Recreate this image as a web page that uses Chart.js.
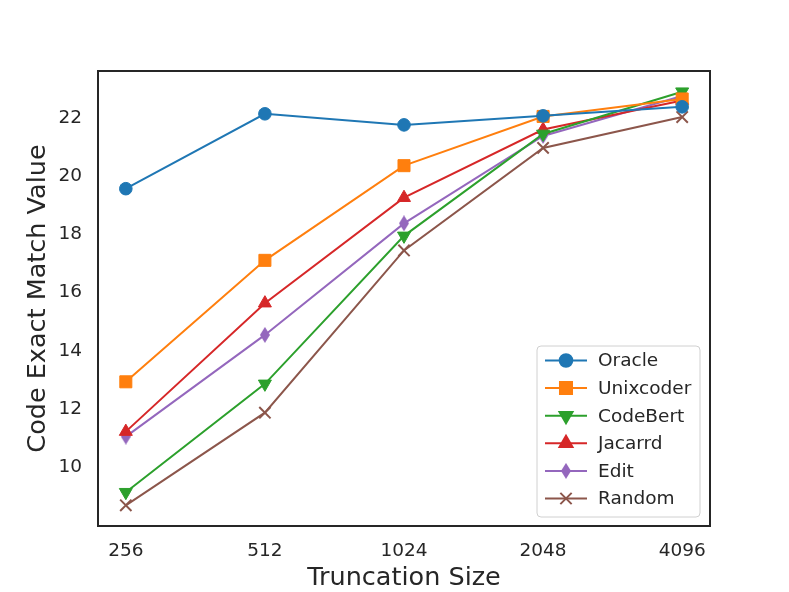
<!DOCTYPE html>
<html>
<head>
<meta charset="utf-8">
<script src="https://cdn.jsdelivr.net/npm/chart.js@4.4.1/dist/chart.umd.min.js"></script>
<style>
  html, body { margin: 0; padding: 0; background: #fff; }
  #wrap { width: 789px; height: 592px; }
</style>
</head>
<body>
<div id="wrap"><canvas id="chart"></canvas></div>
<script>
// Chart data
const sizes = ['256', '512', '1024', '2048', '4096'];
const oracle = [19.57, 22.14, 21.76, 22.07, 22.38];
const unixcoder = [12.94, 17.11, 20.36, 22.05, 22.65];
const codebert = [9.15, 12.87, 17.95, 21.45, 22.90];
const jacarrd = [11.23, 15.64, 19.26, 21.60, 22.60];
const edit = [11.06, 14.55, 18.38, 21.38, 22.75];
const random = [8.70, 11.88, 17.45, 20.97, 22.03];

const textColor = '#262626';
const fontFamily = '"DejaVu Sans", sans-serif';

// thin diamond marker like matplotlib 'd'
function thinDiamond(color, w, h) {
    const c = document.createElement('canvas');
    c.width = w;
    c.height = h;
    const ctx = c.getContext('2d');
    ctx.fillStyle = color;
    ctx.beginPath();
    ctx.moveTo(w / 2, 0);
    ctx.lineTo(w, h / 2);
    ctx.lineTo(w / 2, h);
    ctx.lineTo(0, h / 2);
    ctx.closePath();
    ctx.fill();
    return c;
}

function toPoints(values) {
    return values.map((v, i) => ({ x: i, y: v }));
}

function series(label, values, color, style, radius, rotation) {
    return {
        label: label,
        data: toPoints(values),
        borderColor: color,
        backgroundColor: color,
        borderWidth: 2,
        pointStyle: style,
        pointRadius: radius,
        pointHoverRadius: radius,
        pointRotation: rotation || 0,
        pointBackgroundColor: color,
        pointBorderColor: color,
        pointBorderWidth: style === 'crossRot' ? 2 : 1,
        tension: 0
    };
}

const datasets = [
    series('Oracle', oracle, '#1f77b4', 'circle', 6.3),
    series('Unixcoder', unixcoder, '#ff7f0e', 'rect', 8.5),
    series('CodeBert', codebert, '#2ca02c', 'triangle', 7.5, 180),
    series('Jacarrd', jacarrd, '#d62728', 'triangle', 7.5, 0),
    series('Edit', edit, '#9467bd', thinDiamond('#9467bd', 10, 16), 8),
    series('Random', random, '#8c564b', 'crossRot', 8)
];

// matplotlib-like 5% margins
const allValues = [].concat(oracle, unixcoder, codebert, jacarrd, edit, random);
const yLo = Math.min(...allValues);
const yHi = Math.max(...allValues);
const yPad = (yHi - yLo) * 0.05;

// Frame around the plot area
const framePlugin = {
    id: 'frame',
    afterDatasetsDraw(chart) {
        const a = chart.chartArea;
        const ctx = chart.ctx;
        ctx.save();
        ctx.strokeStyle = '#262626';
        ctx.lineWidth = 2;
        ctx.strokeRect(a.left, a.top, a.right - a.left, a.bottom - a.top);
        ctx.restore();
    }
};

// Legend drawn inside the plot, lower right
const legendPlugin = {
    id: 'innerLegend',
    afterDraw(chart) {
        const ctx = chart.ctx;
        const x0 = 537, y0 = 346, w = 163, h = 171;
        ctx.save();
        ctx.fillStyle = 'rgba(255,255,255,0.8)';
        ctx.strokeStyle = '#d0d0d0';
        ctx.lineWidth = 1;
        ctx.beginPath();
        ctx.roundRect(x0, y0, w, h, 4);
        ctx.fill();
        ctx.stroke();

        ctx.font = '18.5px ' + fontFamily;
        ctx.textBaseline = 'middle';
        chart.data.datasets.forEach((ds, i) => {
            const y = y0 + 14.5 + i * 27.6;
            ctx.strokeStyle = ds.borderColor;
            ctx.lineWidth = 2;
            ctx.beginPath();
            ctx.moveTo(x0 + 8, y);
            ctx.lineTo(x0 + 50, y);
            ctx.stroke();
            ctx.fillStyle = ds.backgroundColor;
            Chart.helpers.drawPoint(ctx, {
                pointStyle: ds.pointStyle,
                radius: ds.pointRadius,
                rotation: ds.pointRotation,
                borderWidth: ds.pointBorderWidth
            }, x0 + 29, y);
            ctx.fillStyle = textColor;
            ctx.fillText(ds.label, x0 + 61, y + 1);
        });
        ctx.restore();
    }
};

new Chart(document.getElementById('chart').getContext('2d'), {
    type: 'line',
    data: { datasets: datasets },
    options: {
        responsive: true,
        maintainAspectRatio: false,
        animation: false,
        layout: { padding: { left: 22, top: 71, right: 79, bottom: 0 } },
        plugins: {
            legend: { display: false },
            tooltip: { enabled: false }
        },
        scales: {
            x: {
                type: 'linear',
                min: -0.2,
                max: 4.2,
                grid: { display: false, drawTicks: false },
                border: { display: false },
                ticks: {
                    stepSize: 1,
                    includeBounds: false,
                    padding: 14,
                    color: textColor,
                    font: { family: fontFamily, size: 18.5 },
                    callback: (v) => sizes[v]
                },
                afterFit(scale) { scale.height = 66; },
                title: {
                    display: true,
                    text: 'Truncation Size',
                    color: textColor,
                    font: { family: fontFamily, size: 25.5, lineHeight: 1.1 },
                    padding: { top: 4, bottom: 0 }
                }
            },
            y: {
                min: yLo - yPad,
                max: yHi + yPad,
                grid: { display: false, drawTicks: false },
                border: { display: false },
                ticks: {
                    stepSize: 2,
                    includeBounds: false,
                    padding: 16,
                    color: textColor,
                    font: { family: fontFamily, size: 18.5 }
                },
                afterBuildTicks(scale) {
                    scale.ticks = scale.ticks.filter(t => t.value % 2 === 0 && t.value >= 10);
                },
                afterFit(scale) { scale.width = 76; },
                title: {
                    display: true,
                    text: 'Code Exact Match Value',
                    color: textColor,
                    font: { family: fontFamily, size: 25.5, lineHeight: 1.1 },
                    padding: { top: 2, bottom: 0 }
                }
            }
        }
    },
    plugins: [framePlugin, legendPlugin]
});
</script>
</body>
</html>
